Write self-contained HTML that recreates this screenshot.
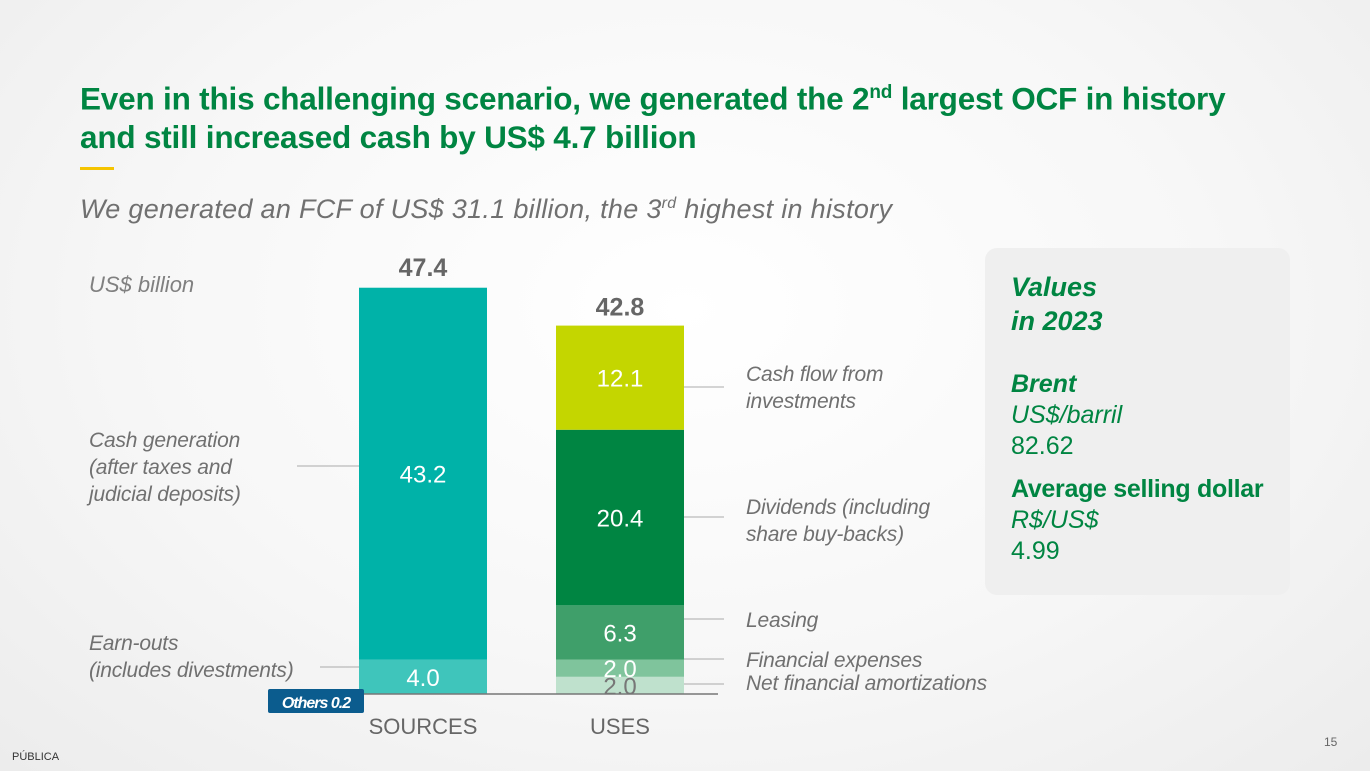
<!DOCTYPE html>
<html><head><meta charset="utf-8"><style>
body{margin:0;width:1370px;height:771px;overflow:hidden;font-family:"Liberation Sans",sans-serif;background:radial-gradient(ellipse at 50% 40%,#ffffff 0%,#f7f7f7 55%,#ececec 100%);position:relative}
.t{position:absolute;white-space:nowrap}
</style></head><body>
<div class="t" style="left:80px;top:74px;font-size:31.5px;letter-spacing:-0.2px;font-weight:bold;color:#008542;line-height:38px">Even in this challenging scenario, we generated the 2<sup style="font-size:19px">nd</sup> largest OCF in history<br>and still increased cash by US$ 4.7 billion</div>
<div style="position:absolute;left:80px;top:167px;width:34px;height:3px;background:#f5c400"></div>
<div class="t" style="left:80px;top:194px;font-size:27px;font-style:italic;color:#707070;letter-spacing:0.3px">We generated an FCF of US$ 31.1 billion, the 3<sup style="font-size:16px">rd</sup> highest in history</div>
<div class="t" style="left:89px;top:272px;font-size:22px;font-style:italic;color:#808080">US$ billion</div>
<svg id="chart" width="1370" height="771" style="position:absolute;left:0;top:0"></svg>
<div style="position:absolute;left:985px;top:248px;width:305px;height:347px;background:#efefef;border-radius:12px"></div>
<div class="t" style="left:1011px;top:270px;font-size:25px;line-height:31px;color:#008542">
<div style="font-weight:bold;font-style:italic;font-size:27px;line-height:34px">Values<br>in 2023</div>
<div style="height:31px"></div>
<div style="font-weight:bold;font-style:italic">Brent</div>
<div style="font-style:italic">US$/barril</div>
<div>82.62</div>
<div style="height:12px"></div>
<div style="font-weight:bold;letter-spacing:-0.3px">Average selling dollar</div>
<div style="font-style:italic">R$/US$</div>
<div>4.99</div></div>
<div class="t" style="left:12px;top:751px;font-size:11px;color:#333">PÚBLICA</div>
<div class="t" style="left:1324px;top:735px;font-size:12px;color:#666">15</div>
<script>
const sourceLabels=["4.0","43.2"];
const sourceValues=[4.0,43.2];
const sourceTotal=[47.4];
const useLabels=["2.0","2.0","6.3","20.4","12.1"];
const useValues=[2.0,2.0,6.3,20.4,12.1];
const useTotal=[42.8];
const othersValue=[0.2];
const categories=["SOURCES","USES"];
const svg=document.getElementById('chart');
const NS='http://www.w3.org/2000/svg';
const base=694, scale=408/47.4;
const y=v=>base-v*scale;
function mk(t,a){const e=document.createElementNS(NS,t);for(const k in a)e.setAttribute(k,a[k]);svg.appendChild(e);return e;}
const srcColors=["#3fc5bb","#00b2a8"];
const useColors=["#bfe1cd","#7fc49c","#3f9f6a","#008542","#c4d600"];
const useTxt=["#777","#fff","#fff","#fff","#fff"];
function stack(x,vals,labels,cols,txt,nm){let c=0;vals.forEach((v,i)=>{const r=mk('rect',{x:x,y:y(c+v),width:128,height:v*scale,fill:cols[i]});


const t=mk('text',{x:x+64,y:y(c+v/2)+9,'text-anchor':'middle','font-size':24,fill:txt[i],'font-family':'Liberation Sans'});t.textContent=labels[i];


c+=v;});return c;}
stack(359,sourceValues,sourceLabels,srcColors,["#fff","#fff"],'sources');
stack(556,useValues,useLabels,useColors,useTxt,'uses');
[[423,sourceTotal[0]],[620,useTotal[0]]].forEach(([x,v])=>{const t=mk('text',{x:x,y:y(v)-10,'text-anchor':'middle','font-size':25,'font-weight':'bold',fill:'#666'});t.textContent=v.toFixed(1);

});
const ax=mk('line',{x1:320,x2:718,y1:base,y2:base,stroke:'#777','stroke-width':1.5});


categories.forEach((c,i)=>{const t=mk('text',{x:[423,620][i],y:734,'text-anchor':'middle','font-size':22,fill:'#666'});t.textContent=c;

});
const ob=mk('rect',{x:268,y:689,width:96,height:24,rx:2,fill:'#0b5c8e'});


const ot=mk('text',{x:316,y:708,'text-anchor':'middle','font-size':16,'font-style':'italic','font-weight':'bold',fill:'#fff','letter-spacing':'-1'});ot.textContent='Others '+othersValue[0];


const ann=[
 {lines:["Cash generation","(after taxes and","judicial deposits)"],x:89,ty:447,lx1:297,lx2:359,ly:466,nm:'cash-generation'},
 {lines:["Earn-outs","(includes  divestments)"],x:89,ty:650,lx1:320,lx2:359,ly:667,nm:'earn-outs'},
 {lines:["Cash flow from","investments"],x:746,ty:381,lx1:684,lx2:724,ly:387,nm:'investments'},
 {lines:["Dividends (including","share buy-backs)"],x:746,ty:514,lx1:684,lx2:724,ly:517,nm:'dividends'},
 {lines:["Leasing"],x:746,ty:627,lx1:684,lx2:724,ly:619,nm:'leasing'},
 {lines:["Financial expenses"],x:746,ty:667,lx1:684,lx2:724,ly:659,nm:'financial-expenses'},
 {lines:["Net financial amortizations"],x:746,ty:690,lx1:684,lx2:724,ly:684,nm:'net-financial-amortizations'}];
ann.forEach(a=>{const l=mk('line',{x1:a.lx1,x2:a.lx2,y1:a.ly,y2:a.ly,stroke:'#aaa','stroke-width':1});


a.lines.forEach((s,i)=>{const t=mk('text',{x:a.x,y:a.ty+i*27,'font-size':21,'font-style':'italic',fill:'#707070','letter-spacing':'-0.2'});t.textContent=s;

});});
</script>
</body></html>
